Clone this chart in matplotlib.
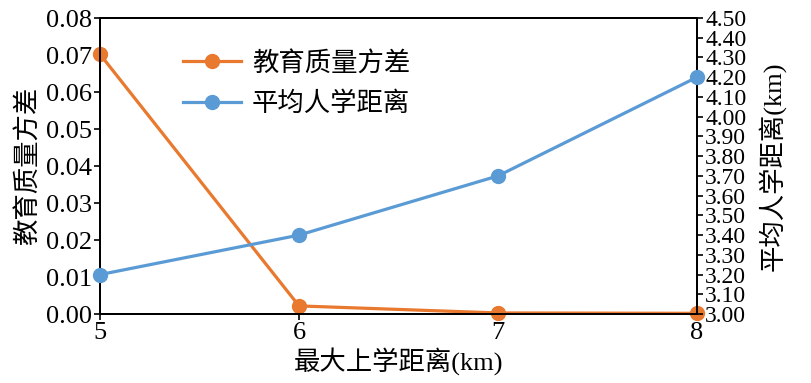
import matplotlib
matplotlib.use('Agg')
import matplotlib.pyplot as plt
from matplotlib.ticker import MultipleLocator, FormatStrFormatter

# data
max_distance = [5, 6, 7, 8]
quality_variance = [0.0702, 0.0022, 0.0003, 0.0002]
avg_distance = [3.20, 3.40, 3.70, 4.20]

FONT = ['Liberation Serif', 'Noto Sans CJK SC']
plt.rcParams['font.family'] = FONT

orange = '#E8792F'
blue = '#5B9BD5'

fig = plt.figure(figsize=(8.11, 3.83), dpi=100)
ax1 = fig.add_axes([0.1233, 0.180, 0.7361, 0.773])
ax2 = ax1.twinx()

l1, = ax1.plot(max_distance, quality_variance, '-o', color=orange, lw=2.3,
               markersize=10, label='教育质量方差', clip_on=False, zorder=3)
l2, = ax2.plot(max_distance, avg_distance, '-o', color=blue, lw=2.3,
               markersize=10, label='平均人学距离', clip_on=False, zorder=3)

ax1.set_xlim(5, 8)
ax1.set_ylim(0, 0.08)
ax2.set_ylim(3.0, 4.5)
ax1.set_xticks(max_distance)
ax1.yaxis.set_major_locator(MultipleLocator(0.01))
ax1.yaxis.set_major_formatter(FormatStrFormatter('%.2f'))
ax2.yaxis.set_major_locator(MultipleLocator(0.1))
ax2.yaxis.set_major_formatter(FormatStrFormatter('%.2f'))

ax1.tick_params(axis='both', labelsize=19, length=4, width=1.2, pad=2)
ax2.tick_params(axis='y', labelsize=17, length=4, width=1.2, pad=2)
for sp in ax1.spines.values():
    sp.set_linewidth(1.4)
for sp in ax2.spines.values():
    sp.set_linewidth(1.4)

ax1.set_xlabel('最大上学距离(km)', fontsize=19, labelpad=2)
ax1.set_ylabel('教育质量方差', fontsize=19, labelpad=4)
ax2.set_ylabel('平均人学距离(km)', fontsize=19, labelpad=8)

ax2.legend(handles=[l1, l2], loc='upper left', bbox_to_anchor=(0.1, 0.97),
           frameon=False, fontsize=19, handlelength=2.2, handletextpad=0.4,
           labelspacing=0.6)

fig.savefig('out.png', dpi=100, facecolor='white')
